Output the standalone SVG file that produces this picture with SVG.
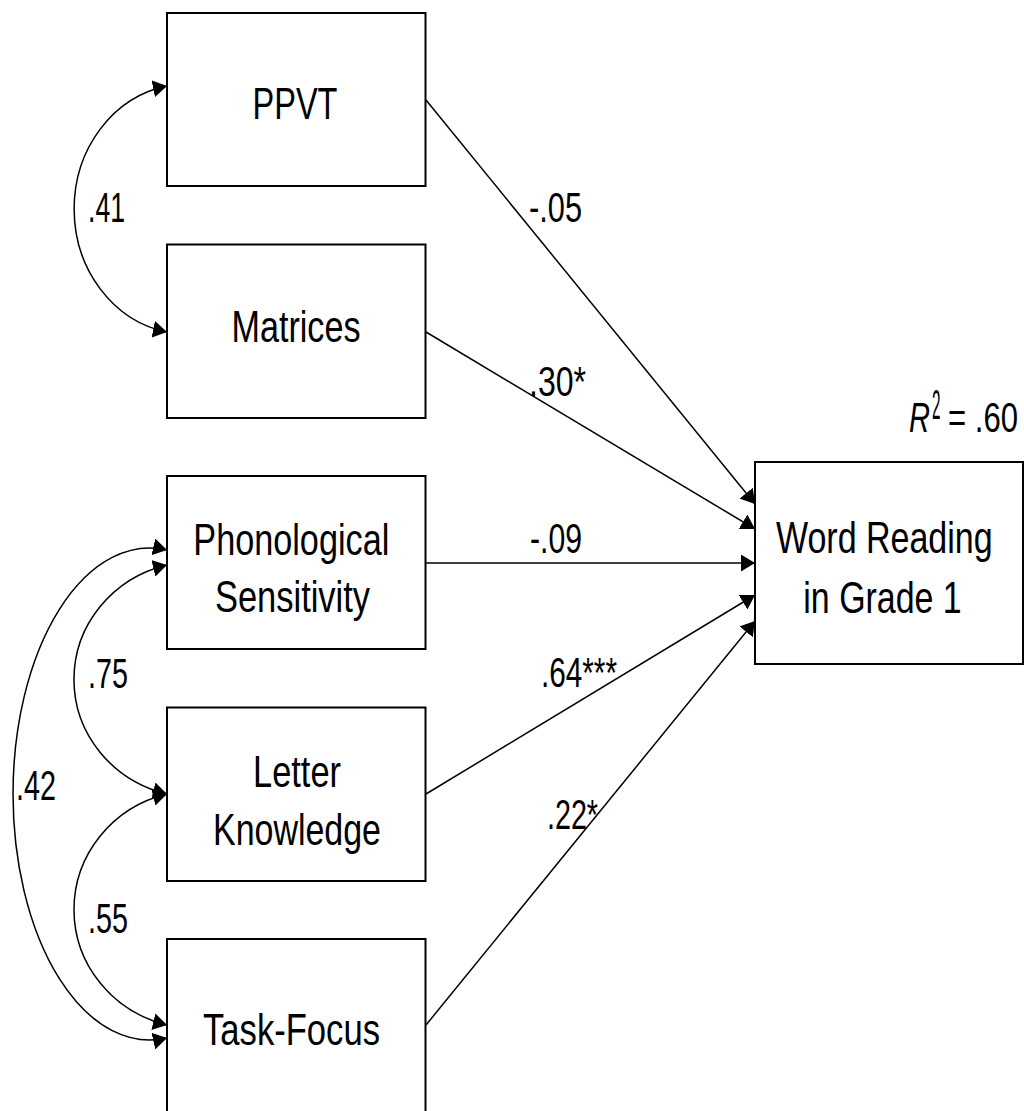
<svg xmlns="http://www.w3.org/2000/svg" width="1024" height="1111" viewBox="0 0 1024 1111">
  <style>
    .box { fill: #ffffff; stroke: #000000; stroke-width: 2; }
    .path { fill: none; stroke: #000000; stroke-width: 1.5; }
    .name { font-family: "Liberation Sans", Arial, sans-serif; font-size: 45px; fill: #000000; text-anchor: middle; }
    .coef { font-family: "Liberation Sans", Arial, sans-serif; font-size: 43px; fill: #000000; }
  </style>
  <defs>
    <marker id="arrow" viewBox="0 0 14 17" refX="14" refY="8.5" markerWidth="14" markerHeight="17" markerUnits="userSpaceOnUse" orient="auto-start-reverse">
      <path d="M0,0 L14,8.5 L0,17 z" fill="#000000"/>
    </marker>
  </defs>
  <rect x="0" y="0" width="1024" height="1111" fill="#ffffff"/>

  <!-- regression paths and covariance arcs -->
  <g id="connectors">
    <line class="path" x1="426" y1="100" x2="755" y2="504" marker-end="url(#arrow)"/>
    <line class="path" x1="426" y1="332" x2="755" y2="529" marker-end="url(#arrow)"/>
    <line class="path" x1="426" y1="563" x2="755" y2="563" marker-end="url(#arrow)"/>
    <line class="path" x1="426" y1="794" x2="755" y2="595" marker-end="url(#arrow)"/>
    <line class="path" x1="426" y1="1025" x2="755" y2="621" marker-end="url(#arrow)"/>

    <path class="path" d="M167,86 A113,125 0 0 0 167,332" marker-start="url(#arrow)" marker-end="url(#arrow)"/>
    <path class="path" d="M167,565 A122.7,118 0 0 0 167,794" marker-start="url(#arrow)" marker-end="url(#arrow)"/>
    <path class="path" d="M167,794 A122.5,119 0 0 0 167,1025" marker-start="url(#arrow)" marker-end="url(#arrow)"/>
    <path class="path" d="M167,550 A136.6,246 0 1 0 167,1038" marker-start="url(#arrow)" marker-end="url(#arrow)"/>

    <text class="coef" x="529" y="222" textLength="53" lengthAdjust="spacingAndGlyphs">-.05</text>
    <text class="coef" x="529" y="396" textLength="57" lengthAdjust="spacingAndGlyphs">.30*</text>
    <text class="coef" x="530" y="553" textLength="52" lengthAdjust="spacingAndGlyphs">-.09</text>
    <text class="coef" x="541" y="687" textLength="76" lengthAdjust="spacingAndGlyphs">.64***</text>
    <text class="coef" x="547" y="829" textLength="51" lengthAdjust="spacingAndGlyphs">.22*</text>
    <text class="coef" x="88" y="222" textLength="37" lengthAdjust="spacingAndGlyphs">.41</text>
    <text class="coef" x="88" y="688" textLength="40" lengthAdjust="spacingAndGlyphs">.75</text>
    <text class="coef" x="88" y="933" textLength="40" lengthAdjust="spacingAndGlyphs">.55</text>
    <text class="coef" x="16" y="800" textLength="40" lengthAdjust="spacingAndGlyphs">.42</text>
  </g>

  <g id="ppvt">
    <rect class="box" x="167" y="13" width="258.5" height="173"/>
    <text class="name" x="295" y="119" textLength="85" lengthAdjust="spacingAndGlyphs">PPVT</text>
  </g>
  <g id="matrices">
    <rect class="box" x="167" y="244.5" width="258.5" height="173.5"/>
    <text class="name" x="296" y="342" textLength="129" lengthAdjust="spacingAndGlyphs">Matrices</text>
  </g>
  <g id="phonological">
    <rect class="box" x="167" y="476" width="258.5" height="173"/>
    <text class="name" x="291.3" y="555" textLength="196" lengthAdjust="spacingAndGlyphs">Phonological</text>
    <text class="name" x="292.5" y="612" textLength="155" lengthAdjust="spacingAndGlyphs">Sensitivity</text>
  </g>
  <g id="letter">
    <rect class="box" x="167" y="707.5" width="258.5" height="173.5"/>
    <text class="name" x="297" y="787" textLength="88" lengthAdjust="spacingAndGlyphs">Letter</text>
    <text class="name" x="297" y="845" textLength="168" lengthAdjust="spacingAndGlyphs">Knowledge</text>
  </g>
  <g id="taskfocus">
    <rect class="box" x="167" y="939" width="258.5" height="176"/>
    <text class="name" x="291.5" y="1045" textLength="177" lengthAdjust="spacingAndGlyphs">Task-Focus</text>
  </g>
  <g id="wordreading">
    <rect class="box" x="755" y="462" width="268" height="202"/>
    <text class="name" x="884.3" y="553" textLength="216.7" lengthAdjust="spacingAndGlyphs">Word Reading</text>
    <text class="name" x="882.5" y="613" textLength="158.4" lengthAdjust="spacingAndGlyphs">in Grade 1</text>
    <!-- explained variance: italic R with a raised 2 -->
    <text class="coef" x="909" y="432" font-style="italic" textLength="21" lengthAdjust="spacingAndGlyphs">R</text>
    <text class="coef" x="932" y="419" font-size="25" textLength="8.5" lengthAdjust="spacingAndGlyphs">2</text>
    <text class="coef" x="948" y="432" textLength="70" lengthAdjust="spacingAndGlyphs">= .60</text>
  </g>
</svg>
